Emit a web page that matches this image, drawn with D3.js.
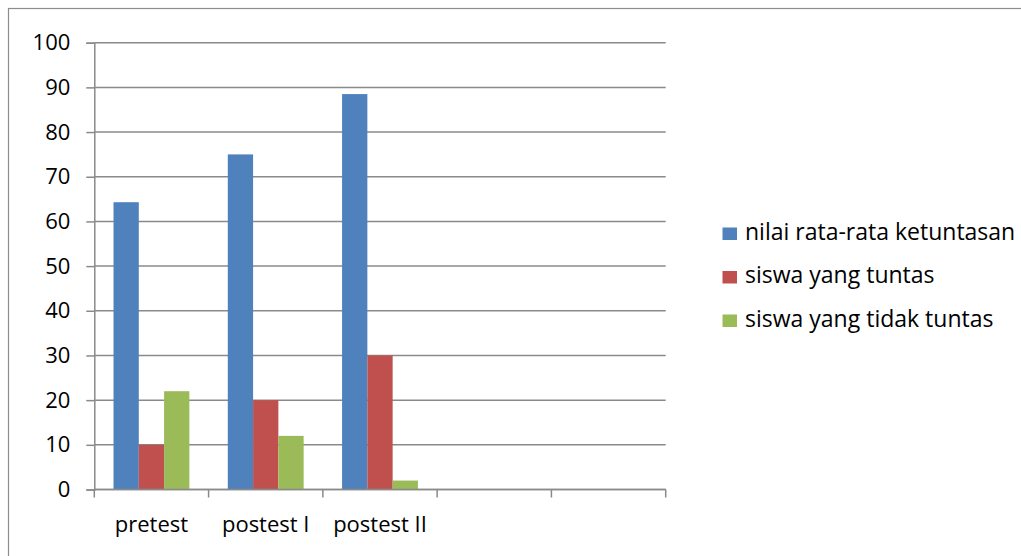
<!DOCTYPE html>
<html>
<head>
<meta charset="utf-8">
<script src="https://cdn.jsdelivr.net/npm/d3@7"></script>
<style>
  html, body { margin: 0; padding: 0; background: #fff; }
  svg { display: block; }
  text { font-family: "Open Sans", "Noto Sans", sans-serif; fill: #000; }
</style>
</head>
<body>
<svg id="chart" width="1021" height="556"></svg>
<script>
// Chart data
const categories = ["pretest", "postest I", "postest II", "", " "];
const seriesNames = ["nilai rata-rata ketuntasan", "siswa yang tuntas", "siswa yang tidak tuntas"];
const seriesColors = ["#4F81BD", "#C0504D", "#9BBB59"];
const rataRata = [64.3, 75, 88.5];
const tuntas = [10, 20, 30];
const tidakTuntas = [22, 12, 2];
const yTicks = [0, 10, 20, 30, 40, 50, 60, 70, 80, 90, 100];

const seriesValues = [rataRata, tuntas, tidakTuntas];

const svg = d3.select("#chart");
const W = 1021, H = 556;
const FONT = "22px";
const LEGEND_FONT = "23px";

// Outer chart frame
svg.append("rect")
  .attr("x", 8.5).attr("y", 8.5)
  .attr("width", W + 20).attr("height", H + 20)
  .attr("fill", "none").attr("stroke", "#8c8c8c").attr("stroke-width", 1.2);

const plot = { left: 94.3, right: 665.7, top: 42.7, bottom: 489.5 };

const x = d3.scaleBand()
  .domain(categories)
  .range([plot.left, plot.right])
  .paddingInner(0).paddingOuter(0);

const x1 = d3.scaleBand()
  .domain(d3.range(seriesNames.length))
  .range([0, x.bandwidth()])
  .paddingInner(0)
  .paddingOuter(0.76);

const y = d3.scaleLinear().domain([0, 100]).range([plot.bottom, plot.top]);

// Horizontal gridlines
svg.append("g")
  .selectAll("line")
  .data(yTicks)
  .join("line")
  .attr("x1", plot.left).attr("x2", plot.right)
  .attr("y1", d => y(d)).attr("y2", d => y(d))
  .attr("stroke", "#8a8a8a").attr("stroke-width", 1.5);

// Bars
const groups = svg.append("g")
  .selectAll("g")
  .data(categories.slice(0, rataRata.length))
  .join("g")
  .attr("transform", d => `translate(${x(d)},0)`);

groups.selectAll("rect")
  .data((d, i) => seriesValues.map((vals, s) => ({ s, v: vals[i] })))
  .join("rect")
  .attr("x", d => x1(d.s))
  .attr("width", x1.bandwidth())
  .attr("y", d => y(d.v))
  .attr("height", d => y(0) - y(d.v))
  .attr("fill", d => seriesColors[d.s]);

// Y axis
const yAxis = svg.append("g")
  .attr("transform", `translate(${plot.left},0)`)
  .call(d3.axisLeft(y).tickValues(yTicks).tickSize(8).tickPadding(16));
yAxis.select(".domain").attr("stroke", "#8a8a8a").attr("stroke-width", 1.5);
yAxis.selectAll(".tick line").attr("stroke", "#8a8a8a").attr("stroke-width", 1.5);
yAxis.selectAll("text")
  .style("font-size", FONT)
  .style("font-family", "'Open Sans', sans-serif")
  .attr("fill", "#000");

// X axis (ticks at category boundaries)
const xAxisG = svg.append("g");
xAxisG.append("line")
  .attr("x1", plot.left).attr("x2", plot.right)
  .attr("y1", y(0)).attr("y2", y(0))
  .attr("stroke", "#8a8a8a").attr("stroke-width", 1.5);
const boundaries = categories.map(c => x(c)).concat([plot.right]);
xAxisG.selectAll("line.tk")
  .data(boundaries)
  .join("line")
  .attr("class", "tk")
  .attr("x1", d => d).attr("x2", d => d)
  .attr("y1", y(0)).attr("y2", y(0) + 8)
  .attr("stroke", "#8a8a8a").attr("stroke-width", 1.5);
xAxisG.selectAll("text")
  .data(categories.filter(c => c.trim() !== ""))
  .join("text")
  .attr("x", d => x(d) + x.bandwidth() / 2)
  .attr("y", 532)
  .attr("text-anchor", "middle")
  .style("font-size", FONT)
  .text(d => d);

// Legend
const legend = svg.append("g").attr("transform", "translate(722.5,0)");
const rowsBaseline = [239.5, 283, 326.5];
const items = legend.selectAll("g")
  .data(seriesNames)
  .join("g")
  .attr("transform", (d, i) => `translate(0,${rowsBaseline[i]})`);
items.append("rect")
  .attr("x", 0).attr("y", -12)
  .attr("width", 14.5).attr("height", 12.5)
  .attr("fill", (d, i) => seriesColors[i]);
items.append("text")
  .attr("x", 22.5).attr("y", 0)
  .style("font-size", LEGEND_FONT)
  .text(d => d);
</script>
</body>
</html>
